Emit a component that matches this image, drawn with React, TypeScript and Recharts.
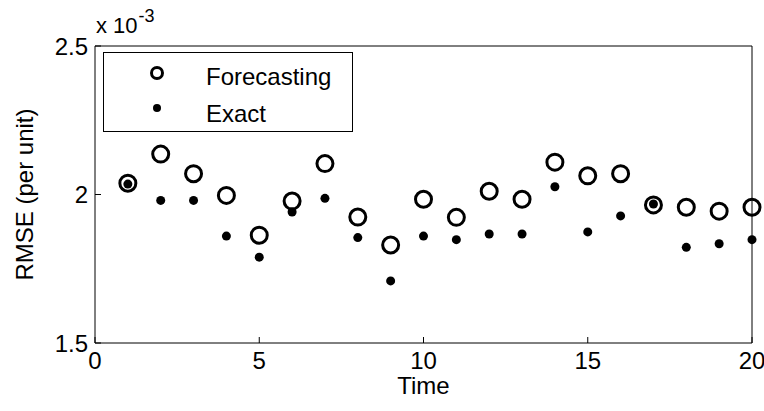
import React from "react";
import { ScatterChart, Scatter, XAxis, YAxis, Legend, Label } from "recharts";

// RMSE values are in units of 1e-3 (see the "x 10^-3" note on the axis)
const time = [1, 2, 3, 4, 5, 6, 7, 8, 9, 10, 11, 12, 13, 14, 15, 16, 17, 18, 19, 20];
const forecasting = [
  2.038, 2.136, 2.07, 1.997, 1.863, 1.978, 2.104, 1.924, 1.83, 1.984,
  1.923, 2.011, 1.984, 2.109, 2.063, 2.07, 1.965, 1.957, 1.944, 1.957,
];
const exact = [
  2.035, 1.98, 1.98, 1.86, 1.789, 1.941, 1.987, 1.855, 1.709, 1.86,
  1.848, 1.867, 1.867, 2.026, 1.874, 1.928, 1.968, 1.822, 1.834, 1.848,
];
const xTicks = [0, 5, 10, 15, 20];
const yTicks = [1.5, 2, 2.5];

const FONT = "'Liberation Sans', Arial, Helvetica, sans-serif";
const TICK_LEN = 6;

const forecastData = time.map((t, i) => ({ time: t, rmse: forecasting[i] }));
const exactData = time.map((t, i) => ({ time: t, rmse: exact[i] }));

// MATLAB style ticks: marks point into the plot box
function BottomTick({ x, y, payload }: any) {
  return (
    <g>
      <line x1={x} x2={x} y1={y} y2={y - TICK_LEN} stroke="#000" />
      <text x={x} y={y + 26} textAnchor="middle" fontSize={24} fontFamily={FONT} fill="#000">
        {payload.value}
      </text>
    </g>
  );
}

function TopTick({ x, y }: any) {
  return <line x1={x} x2={x} y1={y} y2={y + TICK_LEN} stroke="#000" />;
}

function LeftTick({ x, y, payload }: any) {
  return (
    <g>
      <line x1={x} x2={x + TICK_LEN} y1={y} y2={y} stroke="#000" />
      <text x={x - 7} y={y + 8.5} textAnchor="end" fontSize={24} fontFamily={FONT} fill="#000">
        {payload.value}
      </text>
    </g>
  );
}

function RightTick({ x, y }: any) {
  return <line x1={x} x2={x - TICK_LEN} y1={y} y2={y} stroke="#000" />;
}

const ringShape = (p: any) => (
  <circle cx={p.cx} cy={p.cy} r={8} fill="none" stroke="#000" strokeWidth={3} />
);
const dotShape = (p: any) => <circle cx={p.cx} cy={p.cy} r={4.5} fill="#000" />;

function LegendBox() {
  return (
    <svg width={250} height={80} style={{ display: "block" }}>
      <rect x={0.5} y={0.5} width={249} height={79} fill="#fff" stroke="#000" />
      <circle cx={54} cy={21} r={5.5} fill="none" stroke="#000" strokeWidth={3} />
      <text x={103} y={33} fontSize={24} fontFamily={FONT} fill="#000">Forecasting</text>
      <circle cx={54} cy={56} r={4} fill="#000" />
      <text x={103} y={70} fontSize={24} fontFamily={FONT} fill="#000">Exact</text>
    </svg>
  );
}

export default function App() {
  return (
    <div style={{ position: "absolute", left: 0, top: 0, width: 764, height: 411, background: "#fff" }}>
      <ScatterChart width={764} height={411} margin={{ top: 45, right: 11, bottom: 0, left: 0 }}>
        <XAxis
          type="number"
          dataKey="time"
          domain={[0, 20]}
          ticks={xTicks}
          interval={0}
          height={68}
          tickSize={0}
          tickMargin={0}
          axisLine={{ stroke: "#000" }}
          tick={<BottomTick />}
        >
          <Label
            content={({ viewBox }: any) => (
              <text
                x={viewBox.x + viewBox.width / 2}
                y={394}
                textAnchor="middle"
                fontSize={24}
                fontFamily={FONT}
                fill="#000"
              >
                Time
              </text>
            )}
          />
        </XAxis>
        <XAxis
          xAxisId="top"
          orientation="top"
          type="number"
          dataKey="time"
          domain={[0, 20]}
          ticks={xTicks}
          interval={0}
          height={1}
          tickSize={0}
          tickMargin={0}
          axisLine={{ stroke: "#000" }}
          tick={<TopTick />}
        >
          <Label
            content={() => (
              <text x={96} y={33} fontSize={22} fontFamily={FONT} fill="#000">
                x 10
                <tspan fontSize={18} dx={1} dy={-11}>-3</tspan>
              </text>
            )}
          />
        </XAxis>
        <YAxis
          type="number"
          dataKey="rmse"
          domain={[1.5, 2.5]}
          ticks={yTicks}
          interval={0}
          width={95}
          tickSize={0}
          tickMargin={0}
          axisLine={{ stroke: "#000" }}
          tick={<LeftTick />}
        >
          <Label
            content={({ viewBox }: any) => {
              const cy = viewBox.y + viewBox.height / 2;
              return (
                <text
                  x={33}
                  y={cy}
                  transform={`rotate(-90, 33, ${cy})`}
                  textAnchor="middle"
                  fontSize={24}
                  fontFamily={FONT}
                  fill="#000"
                >
                  RMSE (per unit)
                </text>
              );
            }}
          />
        </YAxis>
        <YAxis
          yAxisId="right"
          orientation="right"
          type="number"
          domain={[1.5, 2.5]}
          ticks={yTicks}
          interval={0}
          width={1}
          tickSize={0}
          tickMargin={0}
          axisLine={{ stroke: "#000" }}
          tick={<RightTick />}
        />
        <Legend
          layout="vertical"
          align="center"
          verticalAlign="middle"
          wrapperStyle={{ left: 103, top: 52, width: 250, height: 80 }}
          content={() => <LegendBox />}
        />
        <Scatter
          name="Forecasting"
          data={forecastData}
          shape={ringShape}
          isAnimationActive={false}
        />
        <Scatter
          name="Exact"
          data={exactData}
          shape={dotShape}
          isAnimationActive={false}
        />
      </ScatterChart>
    </div>
  );
}
